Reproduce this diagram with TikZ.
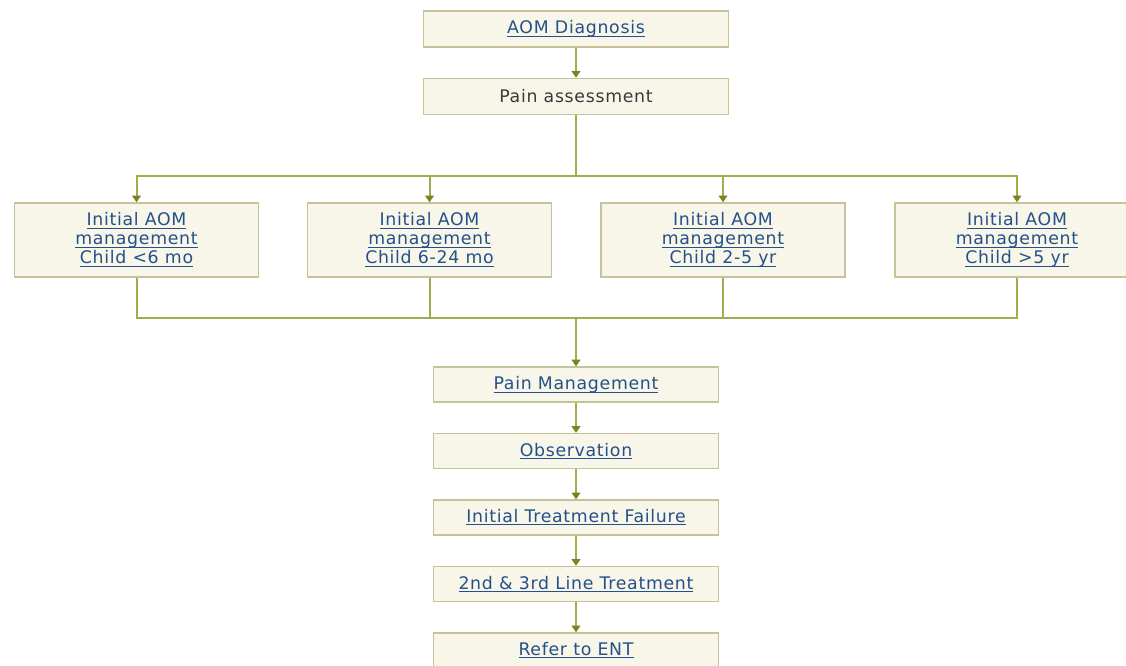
\documentclass[tikz,border=0pt]{standalone}
\usepackage{amsmath}
\usepackage{fontspec}
\setmainfont{DejaVu Sans}[LetterSpace=4]
\usetikzlibrary{positioning,arrows.meta}
\definecolor{boxfill}{HTML}{F8F6E8}
\definecolor{boxline}{HTML}{C6C29A}
\definecolor{wire}{HTML}{A2AC4E}
\definecolor{tipgreen}{HTML}{76861C}
\definecolor{linkblue}{HTML}{24508C}
\definecolor{plaingray}{HTML}{3A3A3A}
\newcommand{\lnk}[1]{\underline{\smash[b]{#1}}}

\begin{document}
\begin{tikzpicture}[
  x=0.75pt, y=-0.75pt,
  node distance=22.5pt,
  every node/.style={font=\fontsize{13}{14.25}\selectfont},
  box/.style={draw=boxline, fill=boxfill, line width=1.1pt, align=center, inner sep=0pt, text=linkblue},
  wide/.style={box, minimum width=228.75pt, minimum height=27pt},
  kid/.style={box, minimum width=183pt, minimum height=55.5pt},
  stage/.style={box, minimum width=213.75pt, minimum height=26.25pt},
  link/.style={line width=1.5pt, draw=wire},
  arrow/.style={link, -{Triangle[width=6.5pt, length=5pt, color=tipgreen]}},
]
  \useasboundingbox (0,0) rectangle (1126,665);
  \clip (0,0) rectangle (1126,665);

  \node[wide] (diag) at (576,29) {\lnk{AOM Diagnosis}};
  \node[wide, below=of diag, text=plaingray] (pain) {Pain assessment};

  \node[kid] (under6) at (136.5,240) {\lnk{Initial AOM}\\\lnk{management}\\\lnk{Child <6 mo}};
  \node[kid] (m6to24) at (429.5,240) {\lnk{Initial AOM}\\\lnk{management}\\\lnk{Child 6-24 mo}};
  \node[kid] (y2to5) at (723,240) {\lnk{Initial AOM}\\\lnk{management}\\\lnk{Child 2-5 yr}};
  \node[kid] (over5) at (1017,240) {\lnk{Initial AOM}\\\lnk{management}\\\lnk{Child >5 yr}};

  \coordinate (split) at ([yshift=-45.4pt]pain.south);
  \coordinate (merge) at ([yshift=-30pt]split |- under6.south);

  \node[stage, below=36.5pt of merge] (painmgmt) {\lnk{Pain Management}};
  \node[stage, below=of painmgmt] (obs) {\lnk{Observation}};
  \node[stage, below=of obs] (failure) {\lnk{Initial Treatment Failure}};
  \node[stage, below=of failure] (secline) {\lnk{2nd \& 3rd Line Treatment}};
  \node[stage, below=of secline] (ent) {\lnk{Refer to ENT}};

  \draw[arrow] (diag) -- (pain);
  \draw[link] (pain) -- (split);
  \draw[arrow] (split) -| (under6);
  \draw[arrow] (split) -| (m6to24);
  \draw[arrow] (split) -| (y2to5);
  \draw[arrow] (split) -| (over5);

  \draw[link] (under6) |- (merge);
  \draw[link] (m6to24) |- (merge);
  \draw[link] (y2to5) |- (merge);
  \draw[link] (over5) |- (merge);
  \draw[arrow] (merge) -- (painmgmt);

  \draw[arrow] (painmgmt) -- (obs);
  \draw[arrow] (obs) -- (failure);
  \draw[arrow] (failure) -- (secline);
  \draw[arrow] (secline) -- (ent);
\end{tikzpicture}
\end{document}
